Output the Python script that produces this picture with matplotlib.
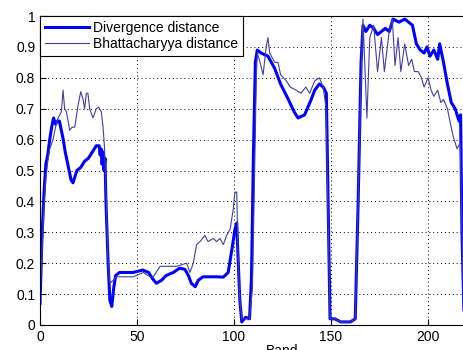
import numpy as np
import matplotlib
matplotlib.use("Agg")
import matplotlib.pyplot as plt

# Divergence distance (thick line)
div_band = [0, 1, 2, 3, 4, 5, 6, 7, 8, 9, 10, 11, 12, 13, 14, 15, 16, 17, 18, 19,
            21, 23, 25, 27, 29, 30.5, 31, 31.5, 32, 32.5, 33, 33.5, 34, 35, 36, 37,
            38, 39, 41, 48, 53, 56, 58, 60, 62.7, 65, 68.7, 72, 74.7, 76.5, 78, 80,
            81.6, 84, 91, 94.5, 97, 98.8, 100.5, 101.4, 102.2, 103, 104, 106, 108,
            109, 110, 111, 112, 114, 117.5, 121, 124, 128, 131, 133, 136.4, 139.8,
            141.6, 144, 146, 147.6, 148.5, 149.5, 152, 155, 160, 162.5, 164, 165.5,
            166.5, 168, 170, 172, 174, 176, 178, 180, 182, 185, 188, 190, 192, 194,
            196, 198, 199.5, 201, 203, 205, 206, 208, 210, 212, 214, 216, 216.8,
            217.5, 218.5]
div_val = [0.07, 0.28, 0.42, 0.52, 0.55, 0.60, 0.64, 0.67, 0.65, 0.66, 0.66, 0.63,
           0.60, 0.56, 0.53, 0.50, 0.47, 0.46, 0.48, 0.50, 0.51, 0.53, 0.54, 0.56,
           0.58, 0.58, 0.55, 0.57, 0.52, 0.56, 0.50, 0.54, 0.40, 0.22, 0.08, 0.06,
           0.12, 0.16, 0.17, 0.17, 0.178, 0.17, 0.15, 0.135, 0.145, 0.16, 0.17,
           0.184, 0.18, 0.16, 0.135, 0.124, 0.145, 0.156, 0.156, 0.155, 0.17, 0.24,
           0.31, 0.33, 0.20, 0.08, 0.01, 0.025, 0.02, 0.15, 0.55, 0.85, 0.89, 0.88,
           0.87, 0.83, 0.78, 0.73, 0.69, 0.67, 0.68, 0.73, 0.76, 0.78, 0.77, 0.75,
           0.40, 0.02, 0.02, 0.01, 0.01, 0.02, 0.40, 0.85, 0.97, 0.95, 0.97, 0.96,
           0.94, 0.95, 0.96, 0.95, 0.99, 0.98, 0.99, 0.98, 0.97, 0.91, 0.89, 0.88,
           0.90, 0.87, 0.89, 0.86, 0.91, 0.85, 0.78, 0.72, 0.70, 0.66, 0.68, 0.30,
           0.05]

# Bhattacharyya distance (thin line)
bha_band = [0, 1, 2, 3, 4, 5, 6.7, 8, 9.3, 11, 11.9, 12.7, 13.6, 14.5, 15.3, 16.5,
            17.9, 19.6, 21, 22.2, 23, 23.9, 24.7, 25.6, 27.3, 29, 30.2, 31.6, 32.5,
            33.3, 34.2, 35, 36, 37.8, 39.5, 48, 53.3, 56.7, 58.4, 61.9, 65.3, 70.4,
            75.6, 77.3, 79, 80.7, 82.5, 85, 86.6, 89.3, 91, 92.8, 94.5, 96.2, 98,
            99.5, 100.5, 101.4, 102.2, 103, 104, 106, 108, 109.5, 110.5, 111.5, 112,
            113, 115, 116.6, 117.5, 118.4, 121, 122.7, 124, 127, 129, 132, 134.5,
            137, 139, 141.6, 144, 146, 147.5, 148.5, 149.5, 152, 155, 160, 162.5,
            164, 165.5, 166.5, 168.5, 170, 172, 174, 176, 177.5, 180, 181.6, 183,
            184.6, 186, 188, 190, 191.6, 193, 195, 196.6, 198, 200, 201.6, 203, 205,
            206.6, 208, 210, 211.6, 213, 215, 216.6, 217.5, 218.5]
bha_val = [0.10, 0.22, 0.38, 0.47, 0.53, 0.57, 0.60, 0.64, 0.67, 0.69, 0.76, 0.70,
           0.69, 0.66, 0.63, 0.64, 0.64, 0.71, 0.755, 0.73, 0.70, 0.75, 0.75, 0.70,
           0.67, 0.70, 0.705, 0.69, 0.64, 0.57, 0.40, 0.22, 0.135, 0.145, 0.156,
           0.156, 0.17, 0.156, 0.156, 0.19, 0.19, 0.19, 0.20, 0.17, 0.20, 0.26,
           0.27, 0.29, 0.27, 0.28, 0.27, 0.28, 0.26, 0.29, 0.31, 0.37, 0.43, 0.43,
           0.20, 0.08, 0.02, 0.02, 0.02, 0.12, 0.45, 0.80, 0.88, 0.86, 0.81, 0.90,
           0.93, 0.88, 0.85, 0.85, 0.81, 0.79, 0.77, 0.76, 0.75, 0.77, 0.75, 0.79,
           0.80, 0.77, 0.70, 0.35, 0.02, 0.02, 0.01, 0.01, 0.02, 0.40, 0.80, 0.99,
           0.67, 0.93, 0.97, 0.82, 0.93, 0.82, 0.95, 0.99, 0.84, 0.93, 0.82, 0.91,
           0.84, 0.86, 0.82, 0.82, 0.80, 0.77, 0.80, 0.76, 0.74, 0.76, 0.72, 0.73,
           0.70, 0.65, 0.61, 0.57, 0.59, 0.30, 0.05]

x_ticks = [0, 50, 100, 150, 200]
y_ticks = [0, 0.1, 0.2, 0.3, 0.4, 0.5, 0.6, 0.7, 0.8, 0.9, 1]
y_labels = ["0", "0.1", "0.2", "0.3", "0.4", "0.5", "0.6", "0.7", "0.8", "0.9", "1"]

plt.rcParams["font.family"] = ["Liberation Sans", "DejaVu Sans"]
plt.rcParams["font.size"] = 10

fig = plt.figure(figsize=(4.64, 3.5), dpi=100)
ax = fig.add_axes([40 / 464, 25 / 350, 485 / 464, 309 / 350])

ax.plot(div_band, div_val, color="#0000ff", lw=2.2, label="Divergence distance")
ax.plot(bha_band, bha_val, color="#40409f", lw=0.8, label="Bhattacharyya distance")

ax.set_xlim(0, 250)
ax.set_ylim(0, 1)
ax.set_xticks(x_ticks)
ax.set_yticks(y_ticks)
ax.set_yticklabels(y_labels)
ax.tick_params(direction="in", length=4, width=0.8, colors="black", labelsize=10)
ax.grid(True, linestyle=(0, (1, 3)), color="black", linewidth=0.7)
for s in ax.spines.values():
    s.set_linewidth(0.8)
ax.set_xlabel("Band", labelpad=0)

leg = ax.legend(loc="upper left", borderaxespad=0, fancybox=False,
                edgecolor="black", framealpha=1, handlelength=3.2,
                borderpad=0.35, labelspacing=0.15, handletextpad=0.3)
leg.get_frame().set_linewidth(0.8)

fig.savefig("out.png", dpi=100)
